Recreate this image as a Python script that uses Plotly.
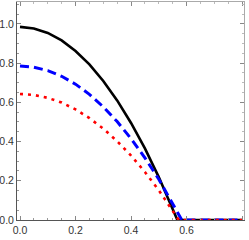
import plotly.graph_objects as go

# Data
x_black = [0.0, 0.05, 0.10, 0.15, 0.20, 0.25, 0.30, 0.35, 0.40, 0.45, 0.50, 0.55, 0.567, 0.80]
y_black = [0.985, 0.977, 0.954, 0.916, 0.862, 0.794, 0.709, 0.610, 0.495, 0.365, 0.219, 0.058, 0.0, 0.0]

x_blue = [0.0, 0.05, 0.10, 0.15, 0.20, 0.25, 0.30, 0.35, 0.40, 0.45, 0.50, 0.55, 0.583, 0.80]
y_blue = [0.785, 0.779, 0.762, 0.733, 0.693, 0.641, 0.577, 0.502, 0.415, 0.317, 0.208, 0.086, 0.0, 0.0]

x_red = [0.0, 0.05, 0.10, 0.15, 0.20, 0.25, 0.30, 0.35, 0.40, 0.45, 0.50, 0.55, 0.572, 0.80]
y_red = [0.643, 0.638, 0.623, 0.599, 0.564, 0.520, 0.466, 0.402, 0.329, 0.245, 0.152, 0.048, 0.0, 0.0]

x_ticks = [0.0, 0.2, 0.4, 0.6, 0.8]
x_tick_labels = ["0.0", "0.2", "0.4", "0.6", "0.8"]
y_ticks = [0.0, 0.2, 0.4, 0.6, 0.8, 1.0]
y_tick_labels = ["0.0", "0.2", "0.4", "0.6", "0.8", "1.0"]

XR = [-0.0108, 0.807]
YR = [0.0, 1.112]

fig = go.Figure()
fig.add_trace(go.Scatter(x=x_black, y=y_black, mode="lines",
                         line=dict(color="black", width=2.6), showlegend=False))
fig.add_trace(go.Scatter(x=x_blue, y=y_blue, mode="lines",
                         line=dict(color="#0000ff", width=3, dash="9px,5px"), showlegend=False))
fig.add_trace(go.Scatter(x=x_red, y=y_red, mode="lines",
                         line=dict(color="#ff0000", width=2.6, dash="3px,5px"), showlegend=False))

font = dict(family="Liberation Sans Narrow, Liberation Sans, sans-serif", size=10.5, color="#333333")

common = dict(showgrid=False, zeroline=False, ticks="inside", ticklen=4, tickwidth=1,
              tickcolor="#888888", showline=True, linewidth=1)

fig.update_layout(
    width=249, height=240,
    margin=dict(l=17, r=5, t=2, b=20, autoexpand=False),
    paper_bgcolor="white", plot_bgcolor="white",
    font=font,
    xaxis=dict(range=XR, tickvals=x_ticks, ticktext=x_tick_labels, linecolor="#555555",
               minor=dict(ticks="inside", ticklen=2, dtick=0.05, tick0=0, tickcolor="#999999"),
               tickfont=font, ticklabelstandoff=0, **common),
    yaxis=dict(range=YR, tickvals=y_ticks, ticktext=y_tick_labels, linecolor="#555555",
               minor=dict(ticks="inside", ticklen=2, dtick=0.05, tick0=0, tickcolor="#999999"),
               tickfont=font, ticklabelstandoff=0, **common),
    xaxis2=dict(range=XR, overlaying="x", side="top", tickvals=x_ticks, showticklabels=False,
                linecolor="#aaaaaa",
                minor=dict(ticks="inside", ticklen=2, dtick=0.05, tick0=0, tickcolor="#bbbbbb"),
                **common),
    yaxis2=dict(range=YR, overlaying="y", side="right", tickvals=y_ticks, showticklabels=False,
                linecolor="#aaaaaa",
                minor=dict(ticks="inside", ticklen=2, dtick=0.05, tick0=0, tickcolor="#bbbbbb"),
                **common),
)
# invisible trace to anchor the mirrored axes
fig.add_trace(go.Scatter(x=[XR[0]], y=[YR[0]], xaxis="x2", yaxis="y2", mode="markers",
                         marker=dict(opacity=0), showlegend=False, hoverinfo="skip"))

fig.write_html("out.html", config={"displayModeBar": False, "staticPlot": True},
               post_script="document.body.style.margin='0px';document.body.style.overflow='hidden';")
